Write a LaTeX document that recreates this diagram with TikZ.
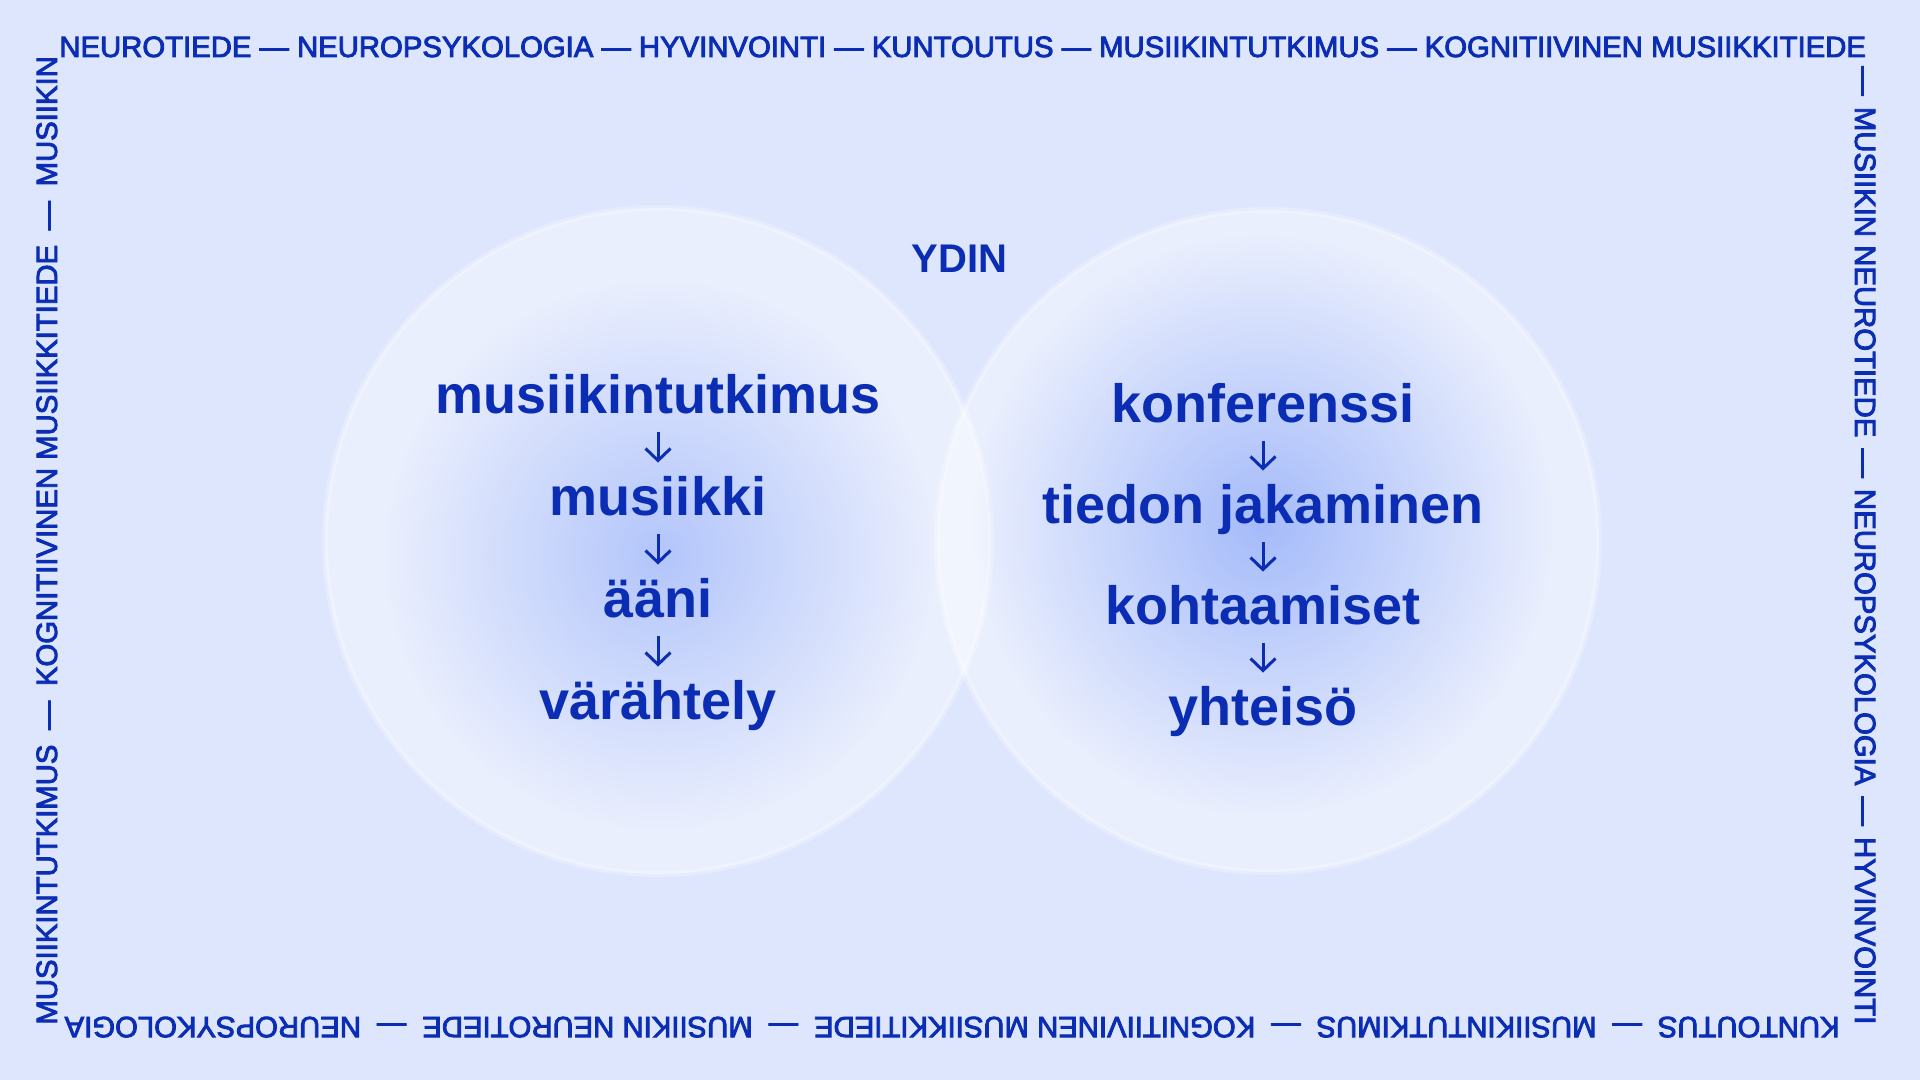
\documentclass[tikz,border=0pt]{standalone}
\usepackage{fontspec}
\setmainfont{Liberation Sans}
\newfontfamily\rimfont{Liberation Sans}[FakeBold=3]
\usetikzlibrary{arrows.meta,fadings}
\definecolor{bgblue}{RGB}{222,230,254}
\definecolor{ink}{RGB}{10,45,180}
\definecolor{glowblue}{RGB}{165,187,250}
\tikzfading[name=glowfade, inner color=transparent!0, outer color=transparent!100]
\newcommand{\wdsh}[1][8pt]{\hspace{#1}—\hspace{#1}}

\begin{document}
\begin{tikzpicture}[x=0.5pt,y=0.5pt,
word/.style={font=\fontsize{27pt}{30pt}\selectfont\bfseries,text=ink,inner sep=0pt,text height=26.5pt,text depth=9pt,anchor=base},
rim/.style={font=\rimfont\fontsize{14.65pt}{16pt}\selectfont,text=ink,inner sep=0pt,anchor=base west},
bubble/.style={fill=white,fill opacity=0.38,draw=white,draw opacity=0.25,line width=3pt},
glow/.style={fill=glowblue,path fading=glowfade},
flow/.style={-{Straight Barb[length=6pt,width=12.5pt]},draw=ink,line width=1.5pt}]

\useasboundingbox (0,0) rectangle (1920,1080);
\fill[bgblue] (0,0) rectangle (1920,1080);

\draw[bubble] (658,539) circle (333);
\draw[bubble] (1268,539) circle (331);
\fill[glow,fill opacity=0.8] (660,525) circle (275);
\fill[glow] (1263,555) circle (290);

\draw (959.5,807) node[word,font=\fontsize{20pt}{22pt}\selectfont\bfseries] (ydin) {YDIN};

\draw (658,666) node[word] (tutk) {musiikintutkimus};
\draw (658,564) node[word] (musk) {musiikki};
\draw (658,462) node[word] (aani) {ääni};
\draw (658,360) node[word] (vara) {värähtely};

\draw (1263,657) node[word] (konf) {konferenssi};
\draw (1263,556) node[word] (tied) {tiedon jakaminen};
\draw (1263,455) node[word] (koht) {kohtaamiset};
\draw (1263,354) node[word] (yhte) {yhteisö};

\draw[flow] (tutk) -- (musk);
\draw[flow] (musk) -- (aani);
\draw[flow] (aani) -- (vara);
\draw[flow] (konf) -- (tied);
\draw[flow] (tied) -- (koht);
\draw[flow] (koht) -- (yhte);

\draw (59,1023) node[rim] (toprim) {NEUROTIEDE — NEUROPSYKOLOGIA — HYVINVOINTI — KUNTOUTUS — MUSIIKINTUTKIMUS — KOGNITIIVINEN MUSIIKKITIEDE};
\draw (1855,1014) node[rim,rotate=-90] (rightrim) {—\hspace{5.6pt}MUSIIKIN NEUROTIEDE\wdsh[5.6pt]NEUROPSYKOLOGIA\wdsh[5.6pt]HYVINVOINTI};
\draw (1840,63) node[rim,rotate=180] (bottomrim) {KUNTOUTUS\wdsh MUSIIKINTUTKIMUS\wdsh KOGNITIIVINEN MUSIIKKITIEDE\wdsh MUSIIKIN NEUROTIEDE\wdsh NEUROPSYKOLOGIA};
\draw (57,55) node[rim,rotate=90] (leftrim) {MUSIIKINTUTKIMUS\wdsh[7.3pt]KOGNITIIVINEN MUSIIKKITIEDE\wdsh[7.3pt]MUSIIKIN};

\end{tikzpicture}
\end{document}
